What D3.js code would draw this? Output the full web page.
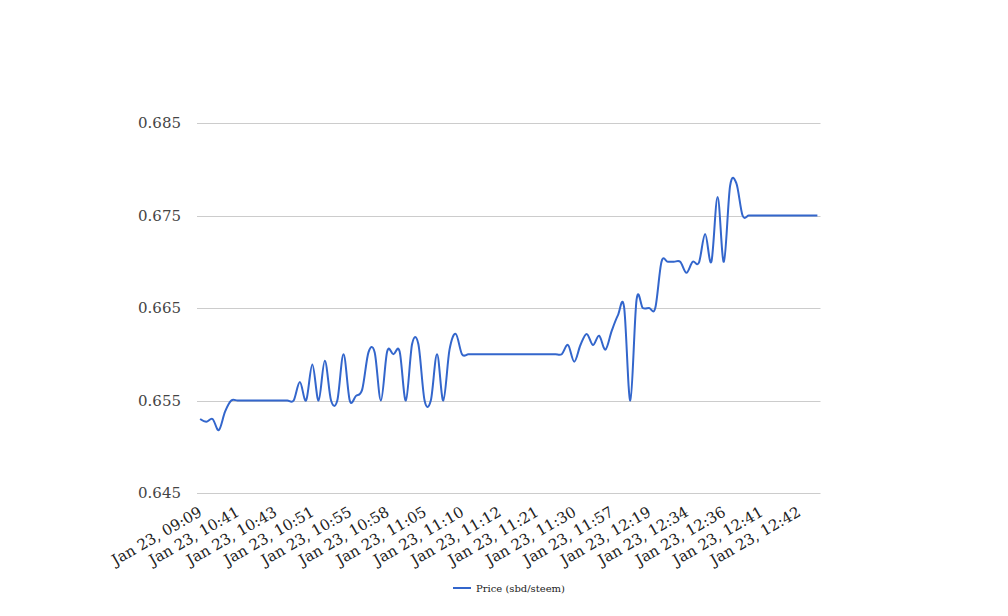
<!DOCTYPE html>
<html>
<head>
<meta charset="utf-8">
<script src="https://cdnjs.cloudflare.com/ajax/libs/d3/7.8.5/d3.min.js"></script>
<style>
  html, body { margin: 0; padding: 0; background: #fff; }
  svg { display: block; }
</style>
</head>
<body>
<svg id="chart" width="1008" height="616"></svg>
<script>
const seriesName = "Price (sbd/steem)";
const tickLabels = ["Jan 23, 09:09","Jan 23, 10:41","Jan 23, 10:43","Jan 23, 10:51","Jan 23, 10:55","Jan 23, 10:58","Jan 23, 11:05","Jan 23, 11:10","Jan 23, 11:12","Jan 23, 11:21","Jan 23, 11:30","Jan 23, 11:57","Jan 23, 12:19","Jan 23, 12:34","Jan 23, 12:36","Jan 23, 12:41","Jan 23, 12:42"];
const labelEvery = 6;
const prices = [
  0.653, 0.6527, 0.653, 0.6518, 0.6538,
  0.655, 0.655, 0.655, 0.655, 0.655, 0.655, 0.655, 0.655, 0.655, 0.655, 0.655,
  0.657, 0.655, 0.6589, 0.655, 0.6593, 0.655, 0.655, 0.66, 0.655, 0.6555,
  0.6562, 0.6602, 0.6602, 0.655, 0.6603, 0.66, 0.6603, 0.655, 0.6611, 0.6611,
  0.655, 0.655, 0.66, 0.655, 0.6605, 0.6622,
  0.66, 0.66, 0.66, 0.66, 0.66, 0.66, 0.66, 0.66, 0.66, 0.66, 0.66, 0.66, 0.66, 0.66, 0.66, 0.66, 0.66,
  0.661, 0.6592, 0.661, 0.6622, 0.661, 0.662, 0.6605, 0.6625, 0.6642, 0.6651,
  0.655, 0.6659, 0.665, 0.665, 0.665, 0.67, 0.67, 0.67, 0.67, 0.6688, 0.67,
  0.6699, 0.673, 0.67, 0.677, 0.67, 0.6782, 0.6785,
  0.675, 0.675, 0.675, 0.675, 0.675, 0.675, 0.675, 0.675, 0.675, 0.675, 0.675, 0.675, 0.675
];
const yTicks = [0.645, 0.655, 0.665, 0.675, 0.685];

const svg = d3.select("#chart");
const plotLeft = 197, plotRight = 820.5, plotTop = 123, plotBottom = 493;
const font = "'DejaVu Serif', serif";

const x = d3.scaleBand().domain(d3.range(prices.length)).range([plotLeft, plotRight]);
const cx = i => x(i) + x.bandwidth() / 2;
const y = d3.scaleLinear().domain([0.645, 0.685]).range([plotBottom, plotTop]);

// gridlines
svg.append("g").selectAll("line").data(yTicks).join("line")
  .attr("x1", plotLeft).attr("x2", plotRight)
  .attr("y1", d => Math.round(y(d)) + 0.5).attr("y2", d => Math.round(y(d)) + 0.5)
  .attr("stroke", "#cccccc").attr("stroke-width", 1);

// y labels
svg.append("g").selectAll("text").data(yTicks).join("text")
  .attr("x", 181).attr("y", d => y(d))
  .attr("dy", "0.35em")
  .attr("text-anchor", "end")
  .attr("font-family", font).attr("font-size", 15)
  .attr("fill", "#444444")
  .text(d => d3.format(".3f")(d));

// x labels
const tickIdx = tickLabels.map((_, k) => k * labelEvery);
svg.append("g").selectAll("text").data(tickIdx).join("text")
  .attr("transform", (d) => `translate(${cx(d) + 3},${515}) rotate(-30)`)
  .attr("text-anchor", "end")
  .attr("font-family", font).attr("font-size", 15)
  .attr("fill", "#222222")
  .text((d, k) => tickLabels[k]);

// line
const line = d3.line()
  .x((d, i) => cx(i))
  .y(d => y(d))
  .curve(d3.curveCardinal.tension(0));
svg.append("path").datum(prices)
  .attr("d", line)
  .attr("fill", "none")
  .attr("stroke", "#3366cc")
  .attr("stroke-width", 2);

// legend
const lg = svg.append("g");
lg.append("line").attr("x1", 453).attr("x2", 471).attr("y1", 588).attr("y2", 588)
  .attr("stroke", "#3366cc").attr("stroke-width", 2);
lg.append("text").attr("x", 476).attr("y", 591.5)
  .attr("font-family", font).attr("font-size", 10)
  .attr("fill", "#222222")
  .text(seriesName);
</script>
</body>
</html>
